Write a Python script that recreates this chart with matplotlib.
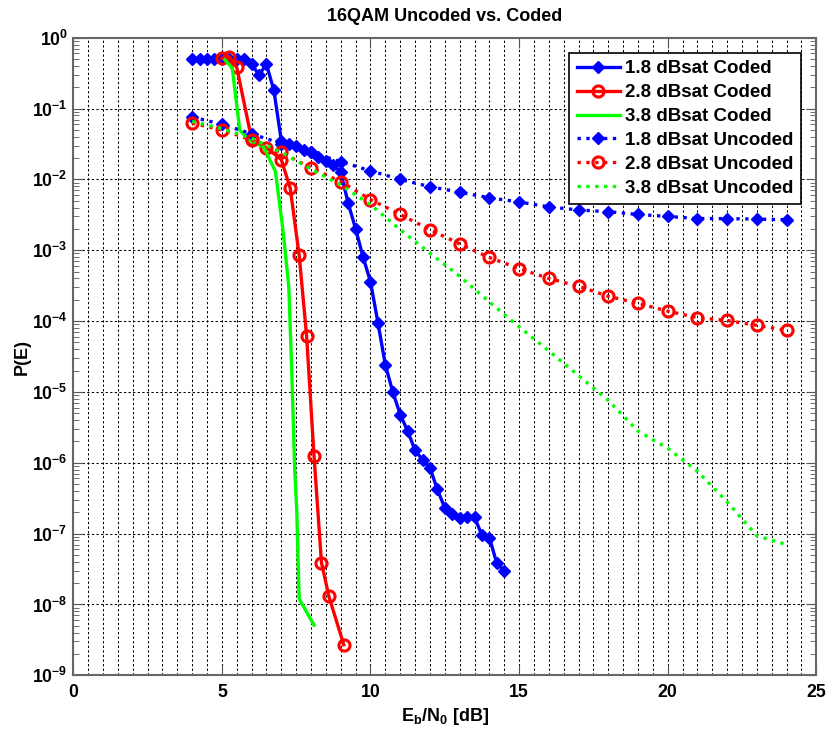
import numpy as np
import matplotlib.pyplot as plt
from matplotlib.ticker import FixedLocator, FixedFormatter, MultipleLocator, NullFormatter

# Eb/N0 [dB] and P(E)
# coded curves
x_coded_18 = np.arange(4.0, 14.51, 0.25)
pe_coded_18 = [0.5, 0.5, 0.5, 0.5, 0.5, 0.5, 0.5, 0.5, 0.42, 0.30, 0.42, 0.18,
               3.5e-2, 3.2e-2, 3.0e-2, 2.6e-2, 2.4e-2, 2.1e-2, 1.8e-2, 1.6e-2,
               1.26e-2, 4.6e-3, 2.0e-3, 8.0e-4, 3.6e-4, 9.5e-5, 2.4e-5, 1.0e-5,
               4.8e-6, 2.8e-6, 1.5e-6, 1.1e-6, 8.5e-7, 4.2e-7, 2.3e-7, 1.9e-7,
               1.65e-7, 1.7e-7, 1.7e-7, 9.5e-8, 8.8e-8, 3.8e-8, 3.0e-8]

x_coded_28 = [5.0, 5.25, 5.5, 6.0, 6.5, 7.0, 7.3, 7.6, 7.85, 8.1, 8.35, 8.6, 9.1]
pe_coded_28 = [0.51, 0.54, 0.38, 3.7e-2, 2.8e-2, 1.9e-2, 7.5e-3, 8.5e-4,
               6.2e-5, 1.25e-6, 3.9e-8, 1.3e-8, 2.7e-9]

x_coded_38 = [5.1, 5.35, 5.6, 5.9, 6.4, 6.8, 7.05, 7.25, 7.35, 7.45, 7.52, 7.6, 8.1]
pe_coded_38 = [0.49, 0.37, 5.0e-2, 3.6e-2, 2.9e-2, 1.3e-2, 2.0e-3, 3.1e-4,
               2.0e-5, 8.0e-7, 2.1e-7, 1.2e-8, 5.1e-9]

# uncoded curves
x_unc = np.arange(4, 25)
pe_unc_18 = [7.6e-2, 6.0e-2, 4.4e-2, 3.2e-2, 2.4e-2, 1.78e-2, 1.32e-2, 1.0e-2,
             7.9e-3, 6.6e-3, 5.5e-3, 4.8e-3, 4.1e-3, 3.7e-3, 3.5e-3, 3.2e-3,
             3.0e-3, 2.8e-3, 2.8e-3, 2.75e-3, 2.7e-3]
pe_unc_28 = [6.2e-2, 5.0e-2, 3.6e-2, 2.4e-2, 1.45e-2, 9.3e-3, 5.2e-3, 3.2e-3,
             1.95e-3, 1.23e-3, 7.9e-4, 5.5e-4, 4.0e-4, 3.1e-4, 2.24e-4, 1.78e-4,
             1.38e-4, 1.12e-4, 1.02e-4, 8.7e-5, 7.4e-5]
pe_unc_38 = [6.6e-2, 5.2e-2, 3.8e-2, 2.4e-2, 1.4e-2, 8.3e-3, 4.4e-3, 1.95e-3,
             9.1e-4, 4.3e-4, 1.86e-4, 8.3e-5, 3.8e-5, 1.7e-5, 7.6e-6, 2.8e-6,
             1.6e-6, 7.6e-7, 2.8e-7, 9.3e-8, 7.0e-8]

labels = ['1.8 dBsat Coded', '2.8 dBsat Coded', '3.8 dBsat Coded',
          '1.8 dBsat Uncoded', '2.8 dBsat Uncoded', '3.8 dBsat Uncoded']

plt.rcParams['font.family'] = ['Liberation Sans', 'DejaVu Sans']
plt.rcParams['font.weight'] = 'bold'
plt.rcParams['mathtext.fontset'] = 'custom'
plt.rcParams['mathtext.rm'] = 'Liberation Sans:bold'
plt.rcParams['mathtext.it'] = 'Liberation Sans:bold'
plt.rcParams['mathtext.bf'] = 'Liberation Sans:bold'

fig = plt.figure(figsize=(8.29, 7.31), dpi=100)
ax = fig.add_axes([0.0884, 0.0762, 0.8963, 0.8722])

lw = 2.4
ax.semilogy(x_coded_18, pe_coded_18, '-D', color='b', lw=lw, ms=6, label=labels[0])
ax.semilogy(x_coded_28, pe_coded_28, '-o', color='r', lw=lw, ms=8, mew=2.2,
            mfc='none', label=labels[1])
ax.semilogy(x_coded_38, pe_coded_38, '-', color='#00ff00', lw=lw, label=labels[2])
ax.semilogy(x_unc, pe_unc_18, ':D', color='b', lw=lw, ms=6, label=labels[3])
ax.semilogy(x_unc, pe_unc_28, ':o', color='r', lw=lw, ms=8, mew=2.2,
            mfc='none', label=labels[4])
ax.semilogy(x_unc, pe_unc_38, ':', color='#00ff00', lw=lw, label=labels[5])

ax.set_xlim(0, 25)
ax.set_ylim(1e-9, 1)

# ticks
exps = np.arange(-9, 1)
ax.yaxis.set_major_locator(FixedLocator(10.0 ** exps))
ax.yaxis.set_major_formatter(FixedFormatter([r'$\mathbf{10^{%d}}$' % e for e in exps]))
minors = [m * 10.0 ** e for e in range(-9, 0) for m in range(2, 10)]
ax.yaxis.set_minor_locator(FixedLocator(minors))
ax.yaxis.set_minor_formatter(NullFormatter())
ax.xaxis.set_major_locator(MultipleLocator(5))
ax.xaxis.set_minor_locator(MultipleLocator(0.5))

ax.tick_params(which='both', direction='in', top=True, right=True,
               labelsize=12.7, color='#555555')
ax.tick_params(axis='y', which='major', length=7, pad=4)
ax.tick_params(axis='y', which='minor', length=4)
ax.tick_params(axis='x', which='major', length=7, pad=6)
ax.tick_params(axis='x', which='minor', length=0)

for s in ax.spines.values():
    s.set_color('#666666')
    s.set_linewidth(1.5)

grid_ls = (0, (2.2, 2.2))
ax.grid(True, axis='y', which='major', ls=grid_ls, color='k', lw=0.75)
ax.grid(True, axis='x', which='both', ls=grid_ls, color='k', lw=0.75)
ax.set_axisbelow(True)

ax.set_title('16QAM Uncoded vs. Coded', fontsize=13, fontweight='bold', pad=12)
ax.set_xlabel(r'E$_\mathbf{b}$/N$_\mathbf{0}$ [dB]', fontsize=13, fontweight='bold', labelpad=4)
ax.set_ylabel('P(E)', fontsize=13, fontweight='bold', labelpad=1)

leg = ax.legend(loc='upper right', fontsize=13.5, handlelength=2.3,
                labelspacing=0.36, borderaxespad=0.8, fancybox=False,
                framealpha=1, edgecolor='k', handletextpad=0.3, borderpad=0.4)
leg.get_frame().set_linewidth(1.2)

fig.savefig('out.png', dpi=100)
